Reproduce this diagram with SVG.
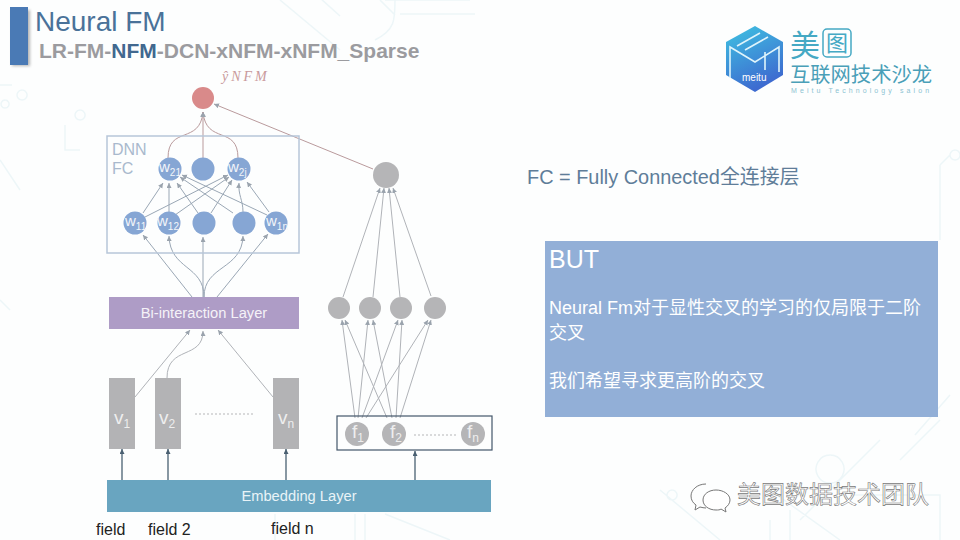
<svg xmlns="http://www.w3.org/2000/svg" width="960" height="540" viewBox="0 0 960 540">
<style>
text{font-family:"Liberation Sans","Noto Sans CJK SC",sans-serif}
.bg{fill:none;stroke:#edf6f8;stroke-width:1.5}
.a{fill:none;stroke:#9aa7b5;stroke-width:1;marker-end:url(#ah)}
.b{fill:none;stroke:#b0b3b8;stroke-width:1;marker-end:url(#ah)}
.s{fill:none;stroke:#4a6072;stroke-width:1.3;marker-end:url(#ad)}
.r{fill:none;stroke:#b99a9c;stroke-width:1;marker-end:url(#ah)}
.n{fill:#86a6d4}
.g{fill:#b5b5b7}
.v{fill:#b3b3b5}
.w{fill:#f2f5fa;font-size:15px}
.sub{font-size:10px}
.vt{fill:#eeeeee;font-size:19px}
.vs{font-size:12px}
.cn{fill:#fff;font-size:18px}
</style>
<defs>
<marker id="ah" markerWidth="6" markerHeight="6" refX="5" refY="2.5" orient="auto" markerUnits="userSpaceOnUse"><path d="M0 0L5 2.5L0 5z" fill="#9aa3ad"/></marker>
<marker id="ad" markerWidth="6" markerHeight="6" refX="5" refY="2.5" orient="auto" markerUnits="userSpaceOnUse"><path d="M0 0L5 2.5L0 5z" fill="#4a6072"/></marker>
<linearGradient id="cube" x1="0" y1="0" x2="0.4" y2="1"><stop offset="0" stop-color="#3fc4e2"/><stop offset="1" stop-color="#3d6bd0"/></linearGradient>
<filter id="sh" x="-50%" y="-20%" width="200%" height="140%"><feGaussianBlur stdDeviation="1.5"/></filter>
</defs>
<rect width="960" height="540" fill="#fdfefe"/>
<g id="background">
<path class="bg" d="M395 0C395 20 395 30 375 40M280 0L340 50M380 0L395 15M340 16L300 -20M385 0L470 0"/>
<path class="bg" d="M0 85H12M22 90a5 5 0 1 0 0.1 0M5 100a4 4 0 1 0 0.1 0M65 125V150H80M80 110a5 5 0 1 0 0.1 0"/>
<path class="bg" d="M385 514L450 540M355 514V540M365 514V540M275 514V540"/>
<path class="bg" d="M940 165V240M940 165L950 155M955 150a5 5 0 1 0 0.1 0M940 420L900 460M950 395L915 435"/>
<path class="bg" d="M830 455a14 14 0 1 0 0.1 0M880 440L800 520M770 490L840 540M660 490L720 540M770 520V540M790 510V540M850 495H940V540M672 490a5 5 0 1 0 0.1 0"/>
<path class="bg" d="M0 160L20 190M0 300L10 310M400 14H475"/>
</g>
<g id="header">
<rect x="12" y="10" width="18" height="56" fill="#777" opacity=".55" filter="url(#sh)"/>
<rect x="10" y="7" width="18" height="58" fill="#4a7ab5"/>
<text x="35" y="31" font-size="28" fill="#4a7299">Neural FM</text>
<text x="39" y="58" font-size="21" font-weight="700" fill="#9b9b9f">LR-FM-<tspan fill="#41688f">NFM</tspan>-DCN-xNFM-xNFM_Sparse</text>
<text x="222" y="81" font-size="14" font-style="italic" fill="#c99a9c" letter-spacing="3" style="font-family:'Liberation Serif',serif">ŷNFM</text>
</g>
<g id="connectors">
<path class="r" d="M203 158V112"/>
<path class="r" d="M168 158C168 125 200 145 203 112"/>
<path class="r" d="M238 158C238 125 206 145 203 112"/>
<path class="r" d="M373 169L214 104"/>
<path class="a" d="M143 213L163 183"/><path class="a" d="M145 217L228 175"/><path class="a" d="M169 212V183"/><path class="a" d="M175 215L229 177"/><path class="a" d="M198 213L177 183"/><path class="a" d="M211 213L232 180"/><path class="a" d="M233 213L180 177"/><path class="a" d="M243 212C243 200 238 195 239 183"/><path class="a" d="M267 215L182 175"/><path class="a" d="M269 212L247 182"/>
<path class="a" d="M192 297L143 235"/><path class="a" d="M217 297L268 234"/><path class="a" d="M203 297V237"/><path class="a" d="M204 297C204 265 170 270 169 236"/><path class="a" d="M204 297C204 265 242 270 243 236"/>
<path class="b" d="M135 397L190 330"/><path class="b" d="M167 378C167 345 203 360 203 331"/><path class="b" d="M273 397L218 330"/>
<path class="b" d="M343 297L380 188"/><path class="b" d="M373 297L384 188"/><path class="b" d="M400 297L389 188"/><path class="b" d="M431 296L393 188"/>
<path class="b" d="M355 418L342 320"/><path class="b" d="M358 418L368 320"/><path class="b" d="M362 418L398 320"/><path class="b" d="M366 418L428 320"/><path class="b" d="M387 418L345 320"/><path class="b" d="M392 418L373 320"/><path class="b" d="M396 418L402 320"/><path class="b" d="M400 418L431 320"/>
<path class="s" d="M122 480V449"/><path class="s" d="M168 480V449"/><path class="s" d="M286 480V449"/><path class="s" d="M415 480V451"/>
</g>
<g id="dnn-box"><rect x="107" y="136" width="192" height="117" fill="none" stroke="#b7c6d9" stroke-width="1.5"/>
<text x="112" y="155" font-size="16" fill="#a9b9cd">DNN</text><text x="112" y="174" font-size="16" fill="#a9b9cd">FC</text></g>
<g id="output"><circle cx="203" cy="98" r="11" fill="#d98a8a"/></g>
<g id="w21"><circle class="n" cx="170" cy="169" r="11.5"/><text class="w" x="159" y="172">w<tspan class="sub" dy="4">21</tspan></text></g>
<g id="w2m"><circle class="n" cx="203" cy="169" r="11.5"/></g>
<g id="w2j"><circle class="n" cx="239" cy="169" r="11.5"/><text class="w" x="228" y="172">w<tspan class="sub" dy="4">2j</tspan></text></g>
<g id="w11"><circle class="n" cx="135" cy="223" r="11.5"/><text class="w" x="125" y="226">w<tspan class="sub" dy="4">11</tspan></text></g>
<g id="w12"><circle class="n" cx="169" cy="223" r="11.5"/><text class="w" x="157" y="226">w<tspan class="sub" dy="4">12</tspan></text></g>
<g id="w13"><circle class="n" cx="204" cy="223" r="11.5"/></g>
<g id="w14"><circle class="n" cx="244" cy="223" r="11.5"/></g>
<g id="w1n"><circle class="n" cx="276" cy="223" r="11.5"/><text class="w" x="266" y="226">w<tspan class="sub" dy="4">1n</tspan></text></g>
<g id="bi-layer"><rect x="109" y="297" width="190" height="32" fill="#ae9cc6"/><text x="204" y="318" font-size="14.7" fill="#f5f2f8" text-anchor="middle">Bi-interaction Layer</text></g>
<g id="v1"><rect class="v" x="109" y="378" width="26" height="71"/><text class="vt" x="114" y="424">v<tspan class="vs" dy="4">1</tspan></text></g>
<g id="v2"><rect class="v" x="155" y="378" width="26" height="71"/><text class="vt" x="159" y="424">v<tspan class="vs" dy="4">2</tspan></text></g>
<g id="vdots"><path d="M195 414H254" stroke="#b5b5b7" stroke-width="1.2" stroke-dasharray="2 2"/></g>
<g id="vn"><rect class="v" x="273" y="378" width="26" height="71"/><text class="vt" x="278" y="424">v<tspan class="vs" dy="4">n</tspan></text></g>
<g id="gray-top"><circle class="g" cx="386" cy="175" r="13"/></g>
<g id="h1"><circle class="g" cx="339" cy="308" r="11"/></g>
<g id="h2"><circle class="g" cx="370" cy="308" r="11"/></g>
<g id="h3"><circle class="g" cx="401" cy="308" r="11"/></g>
<g id="h4"><circle class="g" cx="435" cy="308" r="11"/></g>
<g id="f-box"><rect x="337" y="416" width="155" height="34" fill="none" stroke="#44566a" stroke-width="1.2"/>
<path d="M414 435H456" stroke="#b5b5b7" stroke-width="1.2" stroke-dasharray="2 2"/></g>
<g id="f1"><circle class="g" cx="357" cy="434" r="12"/><text class="vt" x="352" y="438">f<tspan class="vs" dy="4">1</tspan></text></g>
<g id="f2"><circle class="g" cx="394" cy="434" r="12"/><text class="vt" x="390" y="438">f<tspan class="vs" dy="4">2</tspan></text></g>
<g id="fn"><circle class="g" cx="473" cy="434" r="12"/><text class="vt" x="467" y="438">f<tspan class="vs" dy="4">n</tspan></text></g>
<g id="embedding"><rect x="107" y="480" width="384" height="32" fill="#69a5c0"/><text x="299" y="501" font-size="14.7" fill="#e8f3f7" text-anchor="middle">Embedding Layer</text></g>
<g id="fields"><text x="96" y="535" font-size="16" fill="#222">field</text><text x="148" y="535" font-size="16" fill="#222">field 2</text><text x="271" y="534" font-size="16" fill="#222">field n</text></g>
<g id="fc-note"><text x="527" y="184" font-size="19.9" fill="#5f7d99">FC = Fully Connected全连接层</text></g>
<g id="but-box"><rect x="545" y="241" width="393" height="176" fill="#92afd7"/>
<text x="549" y="268" font-size="25" fill="#fff">BUT</text>
<text class="cn" x="549" y="314">Neural Fm对于显性交叉的学习的仅局限于二阶</text>
<text class="cn" x="549" y="339">交叉</text>
<text class="cn" x="549" y="387">我们希望寻求更高阶的交叉</text></g>
<g id="logo">
<path d="M755 26L783 42V75L755 92L726 75V42z" fill="url(#cube)"/>
<path d="M730 78V47L755 62L779 47V72M737 46L760 33M745 50L768 37M765 70V52" fill="none" stroke="#dff4fb" stroke-width="1.6"/>
<text x="742" y="81" font-size="10" fill="#fff">meitu</text>
<text x="790" y="56" font-size="30" fill="#45a9c4">美</text>
<rect x="823" y="29" width="28" height="28" rx="4" fill="none" stroke="#45a9c4" stroke-width="1.5"/>
<text x="826" y="51" font-size="22" fill="#45a9c4">图</text>
<text x="790" y="82" font-size="20.3" fill="#4a9fb8">互联网技术沙龙</text>
<text x="791" y="93" font-size="7" letter-spacing="3.1" fill="#8cc3d2">Meitu Technology salon</text>
</g>
<g id="watermark">
<path d="M706 484c-9 0-15 6-15 12c0 4 2 7 5 9l-1 5l5-3c2 .5 4 1 6 1" fill="none" stroke="#777" stroke-width="1"/>
<path d="M716 490c-7 0-13 4-13 10c0 6 6 10 13 10c2 0 4 0 5-1l5 3l-1-4c3-2 5-5 5-8c0-6-7-10-14-10z" fill="#fff" stroke="#777" stroke-width="1"/>
<text x="737" y="503" font-size="24" fill="#fff" stroke="#777" stroke-width=".6">美图数据技术团队</text>
</g>
</svg>
